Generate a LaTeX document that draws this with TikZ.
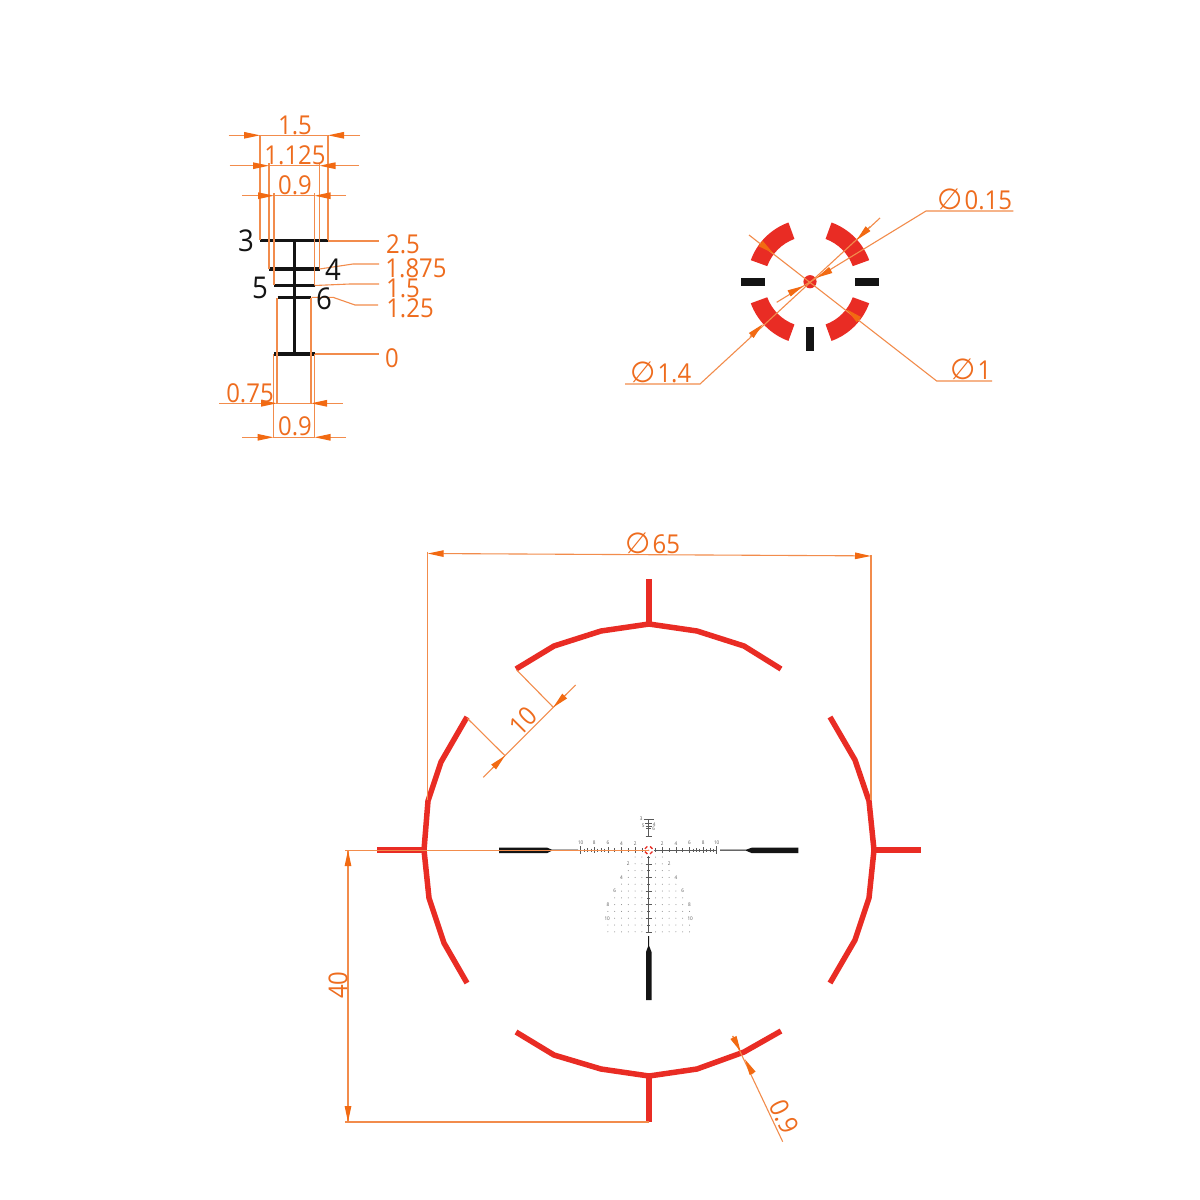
\documentclass[tikz,border=0pt]{standalone}
\usepackage{fontspec}
\setmainfont[FakeStretch=0.92]{Open Sans}
\newfontfamily\symfont[FakeStretch=1.0]{DejaVu Sans}
\usetikzlibrary{arrows.meta}
\definecolor{dimc}{HTML}{F28C4C}
\definecolor{dimtxt}{HTML}{EE6C1E}
\definecolor{arwc}{HTML}{F26A12}
\definecolor{redc}{HTML}{E92C24}
\definecolor{blk}{HTML}{141414}
\newcommand{\dia}{{\symfont\fontsize{29}{25}\selectfont ∅}\kern1.5pt}
\tikzset{
  dimln/.style={draw=dimc,line width=1.1pt},
  arw/.style={draw=dimc,line width=1.1pt,-{Triangle[length=16pt,width=6.5pt,color=arwc]}},
  lbl/.style={text=dimtxt,font=\fontsize{26}{26}\selectfont,inner sep=0pt},
  blbl/.style={text=blk,font=\fontsize{30}{30}\selectfont,inner sep=0pt},
  mlbl/.style={text=black!65,font=\fontsize{5}{5}\selectfont,inner sep=0pt},
  bar/.style={draw=blk,line width=3.2pt},
  rline/.style={draw=redc,line width=5.5pt,line join=miter},
  seg/.style={fill=redc,draw=none},
  btick/.style={fill=blk,draw=none},
  mtick/.style={draw=black!65,line width=0.5pt},
  mdot/.style={fill=black!50,draw=none}
}
\begin{document}
\begin{tikzpicture}[x=1pt,y=-1pt]
\useasboundingbox (0,0) rectangle (1200,1200);
\fill[white] (0,0) rectangle (1200,1200);

%% ---------- top left: stadia detail ----------
\draw[bar] (294.3,240.7) -- (294.3,354);
\draw[bar] (260,240.7) -- (328,240.7);
\draw[bar] (269,269) -- (319.5,269);
\draw[bar] (274,285.7) -- (314.5,285.7);
\draw[bar] (277.5,297.3) -- (311,297.3);
\draw[bar] (274,354) -- (314.5,354);
% extension lines
\draw[dimln] (260,135) -- (260,240) (328,135) -- (328,240);
\draw[dimln] (269,163) -- (269,269) (319.5,163) -- (319.5,269);
\draw[dimln] (274,193) -- (274,285) (314.5,193) -- (314.5,285);
\draw[dimln] (277,298) -- (277,404) (311,298) -- (311,404);
\draw[dimln] (273.5,354) -- (273.5,438) (314.5,354) -- (314.5,438);
% horizontal dimensions
\draw[arw] (228.5,135.3) -- (260,135.3);
\draw[arw] (360,135.3) -- (328,135.3);
\draw[dimln] (260,135.3) -- (328,135.3);
\draw[arw] (229.5,165.7) -- (269,165.7);
\draw[arw] (359,165.7) -- (319.5,165.7);
\draw[dimln] (269,165.7) -- (319.5,165.7);
\draw[arw] (242,195.7) -- (274,195.7);
\draw[arw] (346,195.7) -- (314.5,195.7);
\draw[dimln] (274,195.7) -- (314.5,195.7);
\draw[arw] (219,403.3) -- (277,403.3);
\draw[arw] (342.7,403.3) -- (311,403.3);
\draw[dimln] (277,403.3) -- (311,403.3);
\draw[arw] (242,437.3) -- (273.5,437.3);
\draw[arw] (346,437.3) -- (314.5,437.3);
\draw[dimln] (273.5,437.3) -- (314.5,437.3);
% leaders
\draw[dimln] (328,241) -- (379,241);
\draw[dimln] (319.5,269) -- (353,264) -- (379,264);
\draw[dimln] (314.5,285.5) -- (350,284) -- (379,284);
\draw[dimln] (311.7,297.3) -- (333,297.3) -- (355,305) -- (378,305);
\draw[dimln] (314.5,354) -- (379,354);
% labels
\node[lbl] (a15) at (295,125) {1.5};
\node[lbl] (a1125) at (295,155) {1.125};
\node[lbl] (a09) at (295,185) {0.9};
\node[blbl] (n3) at (246,241) {3};
\node[blbl] (n4) at (333,270) {4};
\node[blbl] (n5) at (260,288) {5};
\node[blbl] (n6) at (324,299) {6};
\node[lbl] (r25) at (403,244) {2.5};
\node[lbl] (r1875) at (416,268) {1.875};
\node[lbl] (r15) at (403,288) {1.5};
\node[lbl] (r125) at (410,308) {1.25};
\node[lbl] (r0) at (392,358) {0};
\node[lbl] (b075) at (250,393) {0.75};
\node[lbl] (b09) at (295,426) {0.9};

%% ---------- top right: centre detail ----------
\begin{scope}[shift={(810,281.7)}]
\foreach \a in {20,110,200,290}{
  \fill[seg] ({45.5*cos(\a)},{-45.5*sin(\a)}) -- ({63*cos(\a)},{-63*sin(\a)})
    arc[start angle=-\a,end angle=-\a-50,radius=63]
    -- ({45.5*cos(\a+50)},{-45.5*sin(\a+50)})
    arc[start angle=-\a-50,end angle=-\a,radius=45.5] -- cycle;
}
\fill[redc] (0,0) circle[radius=6.6];
\fill[btick] (-69.3,-3.8) rectangle (-45.3,3.8);
\fill[btick] (45,-3.8) rectangle (69,3.8);
\fill[btick] (-3.7,45.3) rectangle (3.7,69);
\end{scope}
% phi 1.4
\draw[dimln] (625,384) -- (700,384) -- (880,218);
\draw[arw] (750,336.7) -- (762.7,324.3);
\draw[arw] (870,226.7) -- (856.7,240);
% phi 0.15
\draw[dimln] (1013.3,211) -- (926,211) -- (776.7,302.3);
\draw[arw] (830.7,270) -- (816.7,277.7);
\draw[arw] (789.3,293.3) -- (803.3,286);
% phi 1
\draw[dimln] (992,381) -- (936.7,381) -- (749,235);
\draw[arw] (760,243) -- (773.3,253.3);
\draw[arw] (859.3,320) -- (846.7,309.3);
\node[lbl] (p015) at (975,199.5) {\dia 0.15};
\node[lbl] (p14) at (661,372.5) {\dia 1.4};
\node[lbl] (p1) at (971,369.5) {\dia 1};

%% ---------- bottom: full reticle ----------
\draw[rline] (516,669) -- (554,646) -- (601,631) -- (649,624) -- (697,631) -- (744,646) -- (781,669);
\draw[rline] (467,717) -- (441,762) -- (428,801) -- (424,850) -- (429,898) -- (444,943) -- (467,983);
\draw[rline] (830,717) -- (855,760) -- (869,801) -- (874,850) -- (869,898) -- (855,940) -- (830,983);
\draw[rline] (516,1032) -- (554,1055) -- (601,1069) -- (649,1076) -- (697,1069) -- (744,1052) -- (781,1031);
\draw[rline] (649,579) -- (649,626);
\draw[rline] (377,850) -- (426,850);
\draw[rline] (872,850) -- (921,850);
\draw[rline] (649,1074) -- (649,1122);

% posts
\fill[btick] (499,847.6) -- (547,847.6) -- (552,849.7) -- (578,849.7) -- (578,850.7) -- (552,850.7) -- (547,853.2) -- (499,853.2) -- cycle;
\fill[btick] (720,849.7) -- (746,849.7) -- (752,847.6) -- (798.3,847.6) -- (798.3,853.2) -- (752,853.2) -- (746,850.7) -- (720,850.7) -- cycle;
\fill[btick] (648.2,936) -- (649.2,936) -- (649.2,946) -- (651.5,952) -- (651.5,1000) -- (646,1000) -- (646,952) -- (648.2,946) -- cycle;

% mini horizontal scale
\begin{scope}[shift={(648.7,850.2)}]
\draw[mtick] (-68,0) -- (68,0);
\draw[mtick] (0,6) -- (0,82);
\foreach \k in {1,...,9}{
  \draw[mtick] ({\k*6.8},-1.8) -- ({\k*6.8},1.8);
  \draw[mtick] ({-\k*6.8},-1.8) -- ({-\k*6.8},1.8);
}
\foreach \k in {2,4,6,8}{
  \draw[mtick] ({\k*6.8},-3) -- ({\k*6.8},3);
  \draw[mtick] ({-\k*6.8},-3) -- ({-\k*6.8},3);
}
\foreach \k in {6.5,7.5,8.5,9.5}{
  \draw[mtick] ({\k*6.8},-1.5) -- ({\k*6.8},1.5);
  \draw[mtick] ({-\k*6.8},-1.5) -- ({-\k*6.8},1.5);
}
\draw[mtick,line width=0.8pt] (-68,-4) -- (-68,4) (68,-4) -- (68,4);
\foreach \k in {2,4,6,8,10}{
  \node[mlbl] (ml\k) at ({-\k*6.8},-7) {\k};
  \node[mlbl] (mr\k) at ({\k*6.8},-7) {\k};
}
% vertical ticks
\foreach \r in {1,3,5,7,9,11}{ \draw[mtick] (-1.6,{\r*6.8}) -- (1.6,{\r*6.8}); }
\foreach \r in {2,4,6,8,10,12}{ \draw[mtick] (-3.2,{\r*6.8}) -- (3.2,{\r*6.8}); }
% dot grid
\foreach \r/\n in {1/2,2/2,3/3,4/3,5/4,6/4,7/5,8/5,9/6,10/5,11/6,12/6}{
  \foreach \k in {1,...,\n}{
    \fill[mdot] ({\k*6.8},{\r*6.8}) circle[radius=0.5];
    \fill[mdot] ({-\k*6.8},{\r*6.8}) circle[radius=0.5];
  }
}
% vertical labels
\node[mlbl] (vl2) at (-20.4,13.6) {2};   \node[mlbl] (vr2) at (20.4,13.6) {2};
\node[mlbl] (vl4) at (-27.2,27.2) {4};   \node[mlbl] (vr4) at (27.2,27.2) {4};
\node[mlbl] (vl6) at (-34,40.8) {6};     \node[mlbl] (vr6) at (34,40.8) {6};
\node[mlbl] (vl8) at (-40.8,54.4) {8};   \node[mlbl] (vr8) at (40.8,54.4) {8};
\node[mlbl] (vl10) at (-41.5,68) {10};   \node[mlbl] (vr10) at (41.5,68) {10};
% white centre, then mini centre ring
\fill[white] (0,0) circle[radius=5.4];
\foreach \a in {20,110,200,290}{
  \draw[redc,line width=1.3pt] ({\a}:4) arc[start angle=\a,end angle=\a+50,radius=4];
}
\fill[redc] (0,0) circle[radius=0.6];
% mini stadia
\draw[mtick] (0,-31) -- (0,-13.6);
\draw[mtick] (-5,-31) -- (5,-31);
\draw[mtick] (-3.7,-26.6) -- (3.7,-26.6);
\draw[mtick] (-3,-24) -- (3,-24);
\draw[mtick] (-2.5,-22.2) -- (2.5,-22.2);
\draw[mtick] (-3,-13.6) -- (3,-13.6);
\node[mlbl] (s3) at (-7.5,-31) {3};
\node[mlbl] (s5) at (-5.5,-24) {5};
\node[mlbl] (s4) at (5.5,-26) {4};
\node[mlbl] (s6) at (5,-21.5) {6};
\end{scope}

% dimension 65
\draw[dimln] (427.7,551.7) -- (427.7,800);
\draw[dimln] (871,555) -- (871,800);
\draw[dimln] (445,553.6) -- (855,555.8);
\draw[arw] (445,553.6) -- (427.7,553.5);
\draw[arw] (855,555.8) -- (871,556);
\node[lbl] (d65) at (653,543) {\dia 65};
% dimension 10
\draw[dimln] (516.7,670) -- (553.3,707.3);
\draw[dimln] (467.3,718.3) -- (505,755.7);
\draw[dimln] (575.7,685) -- (483.3,777.3);
\draw[arw] (566.7,694) -- (553.3,707.3);
\draw[arw] (492.3,768.3) -- (505,755.7);
\node[lbl,rotate=45] (d10) at (523.3,721) {10};
% dimension 40
\draw[dimln] (649,850.2) -- (345,850.2);
\draw[dimln] (649,1122) -- (345,1122);
\draw[dimln] (348,850) -- (348,1122);
\draw[arw] (348,867) -- (348,850.2);
\draw[arw] (348,1105) -- (348,1122);
\node[lbl,rotate=90] (d40) at (338,985) {40};
% dimension 0.9
\draw[dimln] (732.7,1036) -- (782.7,1141.7);
\draw[arw] (732.7,1036) -- (740.7,1051.7);
\draw[arw] (753,1074) -- (745,1059.3);
\node[lbl,rotate=-64.7] (d09) at (784,1116.7) {0.9};
\end{tikzpicture}
\end{document}
